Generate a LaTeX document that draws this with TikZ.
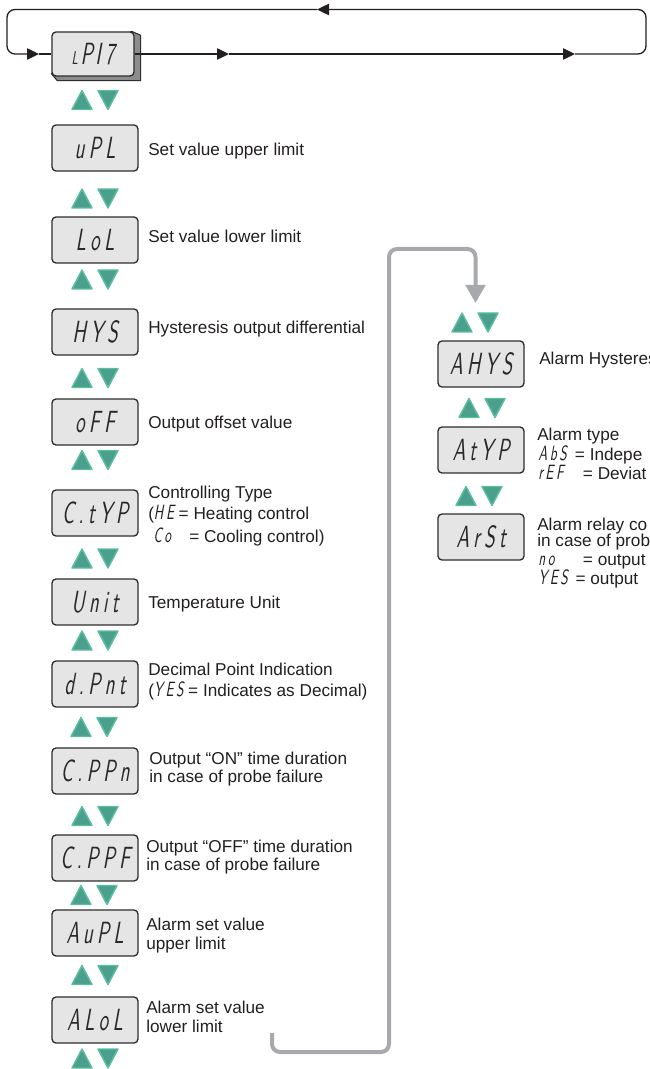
\documentclass[tikz,border=0pt]{standalone}
\usepackage{fontspec}
\setmainfont{Liberation Sans}
\newfontfamily\segf{lmsans10-regular.otf}[FakeSlant=0.18,FakeStretch=0.62,LetterSpace=14]
\newfontfamily\segfi{lmsans10-regular.otf}[FakeSlant=0.18,FakeStretch=0.64,LetterSpace=13]
\usetikzlibrary{arrows.meta,backgrounds,calc}
\definecolor{boxgray}{RGB}{229,229,229}
\definecolor{linedark}{RGB}{45,45,45}
\definecolor{segtext}{RGB}{40,40,40}
\definecolor{txt}{RGB}{35,31,32}
\definecolor{connGray}{RGB}{167,169,172}
\definecolor{shadowgray}{RGB}{140,140,140}
\definecolor{trifill}{RGB}{74,160,140}
\definecolor{triedge}{RGB}{92,190,160}
\newcommand\segbig{\segf\fontsize{23pt}{23pt}\selectfont}
\newcommand\segin[1]{{\segfi\fontsize{15.5pt}{15.5pt}\selectfont #1}}
\newcommand\desctext{\fontsize{12.9pt}{14pt}\selectfont}
\newcommand\updown[2]{%
  \filldraw[tri] (#1-23,#2+9.5) -- (#1-3,#2+9.5) -- (#1-13,#2-9.5) -- cycle;
  \filldraw[tri] (#1+3,#2-9.5) -- (#1+23,#2-9.5) -- (#1+13,#2+9.5) -- cycle;}
\tikzset{
  dispbox/.style={draw=linedark, fill=boxgray, line width=1pt, rounded corners=3pt,
    minimum width=64.5pt, minimum height=34.5pt, inner sep=0pt, font=\segbig, text=segtext},
  desc/.style={anchor=base west, inner sep=0pt, font=\desctext, text=txt},
  conn/.style={draw=txt, line width=1pt},
  arr/.style={-{Triangle[length=9pt,width=8.5pt]}},
  gconn/.style={draw=connGray, line width=3pt, rounded corners=6pt},
  tri/.style={fill=trifill, draw=triedge, line width=1.1pt, line join=round},
}
\begin{document}
\begin{tikzpicture}[x=0.75pt,y=-0.75pt]
\useasboundingbox (0,0) rectangle (649,1069);
\clip (0,0) rectangle (649,1069);

% first display with 3D edge
\node[dispbox, minimum width=61.5pt, minimum height=33pt] (lpi) at (93,54)
  {{\fontsize{14pt}{14pt}\selectfont L}\hspace{2pt}P\hspace{2pt}I7};
\begin{scope}[on background layer]
  \filldraw[fill=shadowgray, draw=linedark, line width=0.8pt, line join=round]
    ($(lpi.north east)+(-3,0)$) -- ++(9,4) -- ($(lpi.south east)+(6,4)$)
    -- ($(lpi.south west)+(6,4)$) -- ($(lpi.south west)+(0,-3)$) -- cycle;
\end{scope}

% left column
\node[dispbox] (upl)  at (95,148)  {uPL};
\node[dispbox] (lol)  at (95,240)  {LoL};
\node[dispbox] (hys)  at (95,332)  {HYS};
\node[dispbox] (off)  at (95,422)  {oFF};
\node[dispbox] (ctyp) at (95,513)  {C.tYP};
\node[dispbox] (unit) at (95,602)  {Unit};
\node[dispbox] (dpnt) at (95,684)  {d.Pnt};
\node[dispbox] (cppn) at (95,771)  {C.PPn};
\node[dispbox] (cppf) at (95,858)  {C.PPF};
\node[dispbox] (aupl) at (95,933)  {AuPL};
\node[dispbox] (alol) at (95,1020) {ALoL};
% right column
\node[dispbox] (ahys) at (481,364) {AHYS};
\node[dispbox] (atyp) at (481,450) {AtYP};
\node[dispbox] (arst) at (481,537) {ArSt};

% up / down keys
\updown{95}{100}
\updown{95}{198.5}
\updown{95}{279.5}
\updown{95}{378}
\updown{95}{460}
\updown{95}{558.5}
\updown{95}{640.5}
\updown{94}{727}
\updown{95}{816}
\updown{94}{895}
\updown{95}{975}
\updown{95}{1058.5}
\updown{475}{322.5}
\updown{482}{408}
\updown{479}{496}

% descriptions
\node[desc] (d1)  at (148,156) {Set value upper limit};
\node[desc] (d2)  at (148,243) {Set value lower limit};
\node[desc] (d3)  at (148,334) {Hysteresis output differential};
\node[desc] (d4)  at (148,428) {Output offset value};
\node[desc] (d5a) at (148,498) {Controlling Type};
\node[desc] (d5b) at (148,519) {(\segin{HE} = Heating control};
\node[desc] (d5c) at (153,542) {\makebox[27pt][l]{\segin{Co}}= Cooling control)};
\node[desc] (d6)  at (148,608) {Temperature Unit};
\node[desc] (d7a) at (148,675) {Decimal Point Indication};
\node[desc] (d7b) at (148,696) {(\segin{YES} = Indicates as Decimal)};
\node[desc] (d8a) at (149,764) {Output “ON” time duration};
\node[desc] (d8b) at (149,782) {in case of probe failure};
\node[desc] (d9a) at (146,852) {Output “OFF” time duration};
\node[desc] (d9b) at (146,870) {in case of probe failure};
\node[desc] (d10a) at (146,930) {Alarm set value};
\node[desc] (d10b) at (146,949) {upper limit};
\node[desc] (d11a) at (146,1013) {Alarm set value};
\node[desc] (d11b) at (146,1032) {lower limit};
\node[desc] (r1)  at (539,364) {Alarm Hysteres};
\node[desc] (r2a) at (537,440) {Alarm type};
\node[desc] (r2b) at (538,460) {\makebox[27.5pt][l]{\segin{AbS}}= Indepe};
\node[desc] (r2c) at (538,479) {\makebox[33.5pt][l]{\segin{rEF}}= Deviat};
\node[desc] (r3a) at (537,530) {Alarm relay co};
\node[desc] (r3b) at (537,546) {in case of prob};
\node[desc] (r3c) at (538,565) {\makebox[33.5pt][l]{\segin{no}}= output o};
\node[desc] (r3d) at (538,584) {\makebox[28pt][l]{\segin{YES}}= output};

% main loop connector
\coordinate (a1) at (229,54);
\coordinate (a2) at (575,54);
\coordinate (a3) at (317,9.5);
\coordinate (a4) at (39,54);
\draw[conn, arr] (lpi.east) -- (a1);
\draw[conn, arr] (a1) -- (a2);
\draw[conn, arr, rounded corners=6pt] (a2) -- (646,54) -- (646,9.5) -- (a3);
\draw[conn, arr, rounded corners=6pt] (a3) -- (7,9.5) -- (7,54) -- (a4);
\draw[conn] (a4) -- (lpi.west);

% grey return connector
\coordinate (g0) at (272,1033);
\coordinate (g1) at (475.5,303);
\draw[gconn, -{Triangle[length=13.5pt,width=14.5pt]}]
  (g0) -- (272,1052) -- (389,1052) -- (389,249) -- (475.5,249) -- (g1);
\end{tikzpicture}
\end{document}
